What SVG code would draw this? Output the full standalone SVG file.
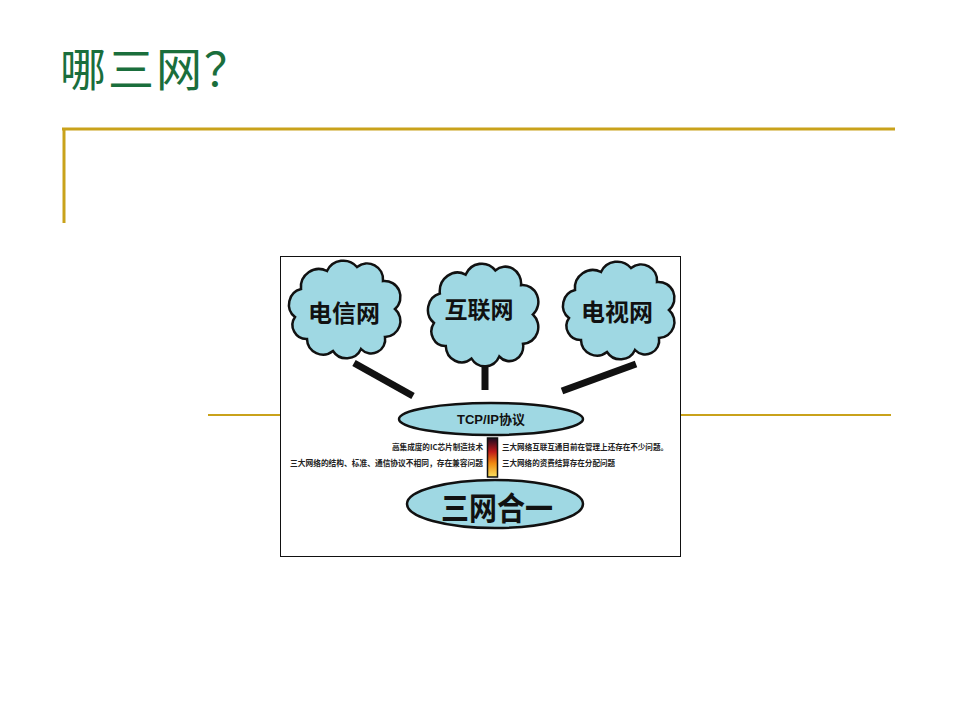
<svg xmlns="http://www.w3.org/2000/svg" width="960" height="720" viewBox="0 0 960 720">
<style>
.gold{stroke:#c9a21b;fill:none}
.cloud{fill:#9fd8e3;stroke:#111;stroke-width:2.5}
.ell{fill:#9fd8e3;stroke:#111;stroke-width:2.5}
.lbl{font-family:"Liberation Sans","Noto Sans CJK SC",sans-serif;font-weight:bold;fill:#111;text-anchor:middle}
.small{font-family:"Noto Sans CJK SC",sans-serif;font-weight:bold;font-size:8px;fill:#222}
.bar{stroke:#111;stroke-width:7;stroke-linecap:butt}
</style>
<defs>
<path id="cloudShape" d="M20,80 A14,14 0 0 1 8,58 A16,16 0 0 1 14,30 A18,18 0 0 1 40,12 A18,18 0 0 1 70,8 A16,16 0 0 1 96,22 A16,16 0 0 1 108,50 A16,16 0 0 1 98,78 A14,14 0 0 1 74,90 A16,16 0 0 1 46,92 A16,16 0 0 1 20,80 Z"/>
<linearGradient id="heat" x1="0" y1="0" x2="0" y2="1">
<stop offset="0" stop-color="#1a0a20"/>
<stop offset="0.35" stop-color="#c01a1a"/>
<stop offset="0.65" stop-color="#f08a10"/>
<stop offset="1" stop-color="#f8e060"/>
</linearGradient>
</defs>
<rect width="960" height="720" fill="#fff"/>
<text x="60" y="86" font-family="Noto Sans CJK SC, sans-serif" font-size="46" fill="#1a6e3c" textLength="190">哪三网？</text>
<line class="gold" x1="62" y1="129" x2="895" y2="129" stroke-width="3"/>
<line class="gold" x1="64" y1="128" x2="64" y2="223" stroke-width="3"/>
<line class="gold" x1="208" y1="415" x2="281" y2="415" stroke-width="2"/>
<line class="gold" x1="680" y1="415" x2="891" y2="415" stroke-width="2"/>
<rect x="280.5" y="256.5" width="400" height="300" fill="#fff" stroke="#111" stroke-width="1"/>
<g id="connectors">
<line class="bar" x1="354" y1="363" x2="413" y2="396"/>
<line class="bar" x1="485" y1="363" x2="485" y2="390"/>
<line class="bar" x1="562" y1="391" x2="636" y2="364"/>
</g>
<g id="node-telecom">
<use href="#cloudShape" class="cloud" transform="translate(287,259)"/>
<text class="lbl" x="344" y="322" font-size="24">电信网</text>
</g>
<g id="node-internet">
<use href="#cloudShape" class="cloud" transform="translate(426,262) scale(0.99,1.05)"/>
<text class="lbl" x="479" y="318" font-size="23">互联网</text>
</g>
<g id="node-tv">
<use href="#cloudShape" class="cloud" transform="translate(561,260)"/>
<text class="lbl" x="617" y="321" font-size="24">电视网</text>
</g>
<g id="node-tcpip">
<ellipse class="ell" cx="491" cy="419" rx="92" ry="16"/>
<text class="lbl" x="491" y="424" font-size="13" textLength="68" lengthAdjust="spacingAndGlyphs">TCP/IP协议</text>
</g>
<g id="node-notes">
<rect x="487.5" y="438" width="10" height="39" fill="url(#heat)" stroke="#111" stroke-width="1.5"/>
<text class="small" x="483" y="450" text-anchor="end" textLength="91" lengthAdjust="spacingAndGlyphs">高集成度的IC芯片制造技术</text>
<text class="small" x="483" y="466" text-anchor="end" textLength="193" lengthAdjust="spacingAndGlyphs">三大网络的结构、标准、通信协议不相同，存在兼容问题</text>
<text class="small" x="502" y="450" textLength="166" lengthAdjust="spacingAndGlyphs">三大网络互联互通目前在管理上还存在不少问题。</text>
<text class="small" x="502" y="466" textLength="113" lengthAdjust="spacingAndGlyphs">三大网络的资费结算存在分配问题</text>
</g>
<g id="node-merge">
<ellipse class="ell" cx="495" cy="504" rx="88" ry="24"/>
<text class="lbl" x="497" y="520" font-size="32" textLength="112" lengthAdjust="spacingAndGlyphs">三网合一</text>
</g>
</svg>
